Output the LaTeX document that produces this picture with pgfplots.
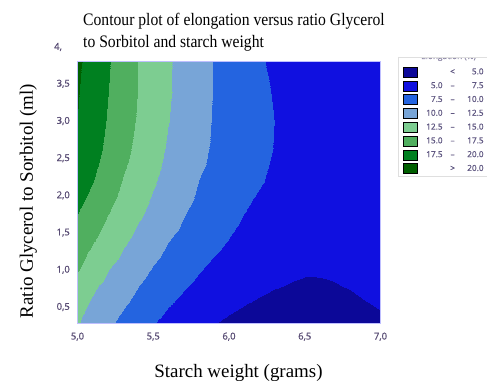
\documentclass[border=0pt]{standalone}
\usepackage{pgfplots}
\pgfplotsset{compat=1.18}
\usepackage{graphicx}
\usepackage{fontspec}
\setmainfont{Liberation Serif}
\newfontfamily\tickfont{Open Sans}[FakeBold=0.8]
\definecolor{tickc}{RGB}{88,76,116}
\definecolor{legc}{RGB}{96,88,130}
\definecolor{c1}{RGB}{12,8,152}
\definecolor{c2}{RGB}{16,16,224}
\definecolor{c3}{RGB}{36,100,224}
\definecolor{c4}{RGB}{120,165,215}
\definecolor{c5}{RGB}{125,205,145}
\definecolor{c6}{RGB}{80,175,95}
\definecolor{c7}{RGB}{0,128,32}
\definecolor{c8}{RGB}{0,95,0}
\pgfplotsset{swatch/.style={legend image code/.code={\fill[##1] (0bp,-5bp) rectangle (14bp,5bp);}}}
\newcommand{\lgent}[3]{\makebox[17bp][r]{#1}\makebox[20bp]{#2}\makebox[21bp][r]{#3}}
\begin{document}
\begin{tikzpicture}
\useasboundingbox (-77.5bp,-58bp) rectangle (409.5bp,323bp);
\begin{axis}[
  at={(0,0)}, anchor=south west,
  scale only axis, width=303bp, height=261.5bp,
  view={0}{90},
  xmin=5, xmax=7, ymin=0.285, ymax=3.8,
  enlargelimits=false,
  xtick={5,5.5,6,6.5,7}, ytick={0.5,1,1.5,2,2.5,3,3.5}, ztick=\empty,
  major tick length=0pt,
  axis line style={draw=blue!25},
  /pgf/number format/.cd, use comma, fixed, fixed zerofill, precision=1, assume math mode=true,
  /pgfplots/.cd,
  tick label style={font=\tickfont\fontsize{9.5}{10}\selectfont, text=tickc, inner sep=0pt},
  xticklabel style={anchor=center, yshift=-13.7bp},
  yticklabel style={anchor=east, xshift=-7.5bp},
  colormap={elong}{rgb255(0)=(12,8,152) rgb255(1)=(16,16,224) rgb255(2)=(36,100,224) rgb255(3)=(120,165,215) rgb255(4)=(125,205,145) rgb255(5)=(80,175,95) rgb255(6)=(0,128,32) rgb255(7)=(0,95,0) rgb255(8)=(0,95,0)},
  colormap access=piecewise constant,
  point meta min=2.5, point meta max=22.5,
  legend style={at={(325.5bp,256.3bp)}, anchor=north west, draw=none, fill=none, inner sep=0pt, row sep=3.4bp, column sep=8bp,
    nodes={inner sep=0pt, anchor=west, font=\tickfont\fontsize{8.3}{9}\selectfont, text=legc}},
  legend cell align=left,
]
\addplot3[surf, shader=interp, mesh/rows=12, mesh/cols=21, forget plot] table {
x y z
5.0 0.285 12.68
5.1 0.285 11.55
5.2 0.285 10.41
5.3 0.285 9.42
5.4 0.285 8.51
5.5 0.285 7.60
5.6 0.285 6.85
5.7 0.285 6.19
5.8 0.285 5.60
5.9 0.285 5.09
6.0 0.285 4.66
6.1 0.285 4.30
6.2 0.285 4.02
6.3 0.285 3.81
6.4 0.285 3.69
6.5 0.285 3.63
6.6 0.285 3.65
6.7 0.285 3.75
6.8 0.285 3.93
6.9 0.285 4.18
7.0 0.285 4.51
5.0 0.45 13.01
5.1 0.45 11.99
5.2 0.45 10.97
5.3 0.45 9.96
5.4 0.45 9.08
5.5 0.45 8.20
5.6 0.45 7.36
5.7 0.45 6.69
5.8 0.45 6.10
5.9 0.45 5.59
6.0 0.45 5.16
6.1 0.45 4.80
6.2 0.45 4.51
6.3 0.45 4.31
6.4 0.45 4.18
6.5 0.45 4.12
6.6 0.45 4.15
6.7 0.45 4.24
6.8 0.45 4.42
6.9 0.45 4.67
7.0 0.45 4.97
5.0 0.6 13.28
5.1 0.6 12.33
5.2 0.6 11.38
5.3 0.6 10.44
5.4 0.6 9.54
5.5 0.6 8.70
5.6 0.6 7.85
5.7 0.6 7.12
5.8 0.6 6.53
5.9 0.6 6.01
6.0 0.6 5.57
6.1 0.6 5.21
6.2 0.6 4.92
6.3 0.6 4.70
6.4 0.6 4.57
6.5 0.6 4.50
6.6 0.6 4.52
6.7 0.6 4.61
6.8 0.6 4.77
6.9 0.6 5.01
7.0 0.6 5.33
5.0 0.8 13.80
5.1 0.8 12.87
5.2 0.8 11.94
5.3 0.8 11.02
5.4 0.8 10.09
5.5 0.8 9.30
5.6 0.8 8.52
5.7 0.8 7.73
5.8 0.8 7.07
5.9 0.8 6.53
6.0 0.8 6.06
6.1 0.8 5.67
6.2 0.8 5.36
6.3 0.8 5.12
6.4 0.8 4.96
6.5 0.8 4.88
6.6 0.8 4.88
6.7 0.8 4.95
6.8 0.8 5.11
6.9 0.8 5.34
7.0 0.8 5.64
5.0 1.0 15.21
5.1 1.0 13.88
5.2 1.0 12.54
5.3 1.0 11.62
5.4 1.0 10.71
5.5 1.0 9.84
5.6 1.0 9.10
5.7 1.0 8.37
5.8 1.0 7.63
5.9 1.0 6.99
6.0 1.0 6.44
6.1 1.0 5.99
6.2 1.0 5.63
6.3 1.0 5.36
6.4 1.0 5.19
6.5 1.0 5.10
6.6 1.0 5.11
6.7 1.0 5.21
6.8 1.0 5.41
6.9 1.0 5.69
7.0 1.0 6.07
5.0 1.4 16.31
5.1 1.4 15.17
5.2 1.4 14.03
5.3 1.4 12.90
5.4 1.4 11.91
5.5 1.4 11.00
5.6 1.4 10.09
5.7 1.4 9.41
5.8 1.4 8.76
5.9 1.4 8.11
6.0 1.4 7.46
6.1 1.4 6.87
6.2 1.4 6.37
6.3 1.4 5.96
6.4 1.4 5.65
6.5 1.4 5.44
6.6 1.4 5.32
6.7 1.4 5.30
6.8 1.4 5.38
6.9 1.4 5.55
7.0 1.4 5.82
5.0 1.8 17.70
5.1 1.8 16.44
5.2 1.8 15.18
5.3 1.8 14.07
5.4 1.8 12.99
5.5 1.8 12.00
5.6 1.8 11.09
5.7 1.8 10.18
5.8 1.8 9.49
5.9 1.8 8.86
6.0 1.8 8.23
6.1 1.8 7.59
6.2 1.8 7.02
6.3 1.8 6.52
6.4 1.8 6.11
6.5 1.8 5.77
6.6 1.8 5.51
6.7 1.8 5.33
6.8 1.8 5.23
6.9 1.8 5.20
7.0 1.8 5.25
5.0 2.2 18.89
5.1 2.2 17.55
5.2 2.2 16.22
5.3 2.2 14.90
5.4 2.2 13.82
5.5 2.2 12.74
5.6 2.2 11.79
5.7 2.2 10.88
5.8 2.2 9.98
5.9 2.2 9.41
6.0 2.2 8.84
6.1 2.2 8.27
6.2 2.2 7.70
6.3 2.2 7.13
6.4 2.2 6.63
6.5 2.2 6.20
6.6 2.2 5.86
6.7 2.2 5.59
6.8 2.2 5.41
6.9 2.2 5.32
7.0 2.2 5.25
5.0 2.6 19.63
5.1 2.6 18.29
5.2 2.6 16.95
5.3 2.6 15.62
5.4 2.6 14.40
5.5 2.6 13.30
5.6 2.6 12.25
5.7 2.6 11.35
5.8 2.6 10.46
5.9 2.6 9.72
6.0 2.6 9.15
6.1 2.6 8.58
6.2 2.6 8.01
6.3 2.6 7.44
6.4 2.6 6.89
6.5 2.6 6.43
6.6 2.6 6.05
6.7 2.6 5.75
6.8 2.6 5.55
6.9 2.6 5.42
7.0 2.6 5.35
5.0 3.0 20.00
5.1 3.0 18.66
5.2 3.0 17.32
5.3 3.0 16.02
5.4 3.0 14.77
5.5 3.0 13.66
5.6 3.0 12.56
5.7 3.0 11.61
5.8 3.0 10.68
5.9 3.0 9.84
6.0 3.0 9.26
6.1 3.0 8.67
6.2 3.0 8.09
6.3 3.0 7.51
6.4 3.0 6.87
6.5 3.0 6.34
6.6 3.0 5.93
6.7 3.0 5.65
6.8 3.0 5.48
6.9 3.0 5.42
7.0 3.0 5.49
5.0 3.4 20.20
5.1 3.4 18.87
5.2 3.4 17.54
5.3 3.4 16.24
5.4 3.4 14.96
5.5 3.4 13.84
5.6 3.4 12.73
5.7 3.4 11.75
5.8 3.4 10.80
5.9 3.4 9.90
6.0 3.4 9.27
6.1 3.4 8.63
6.2 3.4 8.00
6.3 3.4 7.36
6.4 3.4 6.74
6.5 3.4 6.24
6.6 3.4 5.86
6.7 3.4 5.60
6.8 3.4 5.45
6.9 3.4 5.43
7.0 3.4 5.52
5.0 3.8 20.41
5.1 3.8 19.05
5.2 3.8 17.69
5.3 3.8 16.34
5.4 3.8 15.00
5.5 3.8 13.86
5.6 3.8 12.73
5.7 3.8 11.74
5.8 3.8 10.80
5.9 3.8 9.89
6.0 3.8 9.18
6.1 3.8 8.47
6.2 3.8 7.76
6.3 3.8 7.08
6.4 3.8 6.51
6.5 3.8 6.06
6.6 3.8 5.73
6.7 3.8 5.52
6.8 3.8 5.43
6.9 3.8 5.45
7.0 3.8 5.60
};
\addlegendimage{swatch, fill=c1}
\addlegendentry{\lgent{}{<}{5.0}}
\addlegendimage{swatch, fill=c2}
\addlegendentry{\lgent{5.0}{\textendash}{7.5}}
\addlegendimage{swatch, fill=c3}
\addlegendentry{\lgent{7.5}{\textendash}{10.0}}
\addlegendimage{swatch, fill=c4}
\addlegendentry{\lgent{10.0}{\textendash}{12.5}}
\addlegendimage{swatch, fill=c5}
\addlegendentry{\lgent{12.5}{\textendash}{15.0}}
\addlegendimage{swatch, fill=c6}
\addlegendentry{\lgent{15.0}{\textendash}{17.5}}
\addlegendimage{swatch, fill=c7}
\addlegendentry{\lgent{17.5}{\textendash}{20.0}}
\addlegendimage{swatch, fill=c8}
\addlegendentry{\lgent{}{>}{20.0}}
\end{axis}
% legend frame and partly hidden header
\draw[gray!25, line width=0.6bp] (320.5bp,266bp) -- (320.5bp,147bp) -- (420bp,147bp);
\draw[gray!25, line width=0.6bp] (320.5bp,266bp) -- (420bp,266bp);
\begin{scope}
\clip (320.5bp,264.6bp) rectangle (420bp,258bp);
\node[anchor=base west, inner sep=0pt, text=legc!70, font=\tickfont\fontsize{8.3}{9}\selectfont] at (343.5bp,264.0bp) {Elongation (\%)};
\end{scope}
% title
\node[anchor=base west, inner sep=0pt, font=\fontsize{15.7}{18}\selectfont] at (5.5bp,297bp) {\scalebox{1}[1.12]{Contour plot of elongation versus ratio Glycerol}};
\node[anchor=base west, inner sep=0pt, font=\fontsize{15.7}{18}\selectfont] at (5.5bp,275.3bp) {\scalebox{1}[1.12]{to Sorbitol and starch weight}};
% axis labels
\node[anchor=base, inner sep=0pt, font=\fontsize{19}{22}\selectfont] at (161bp,-54.3bp) {Starch weight (grams)};
\node[anchor=base, rotate=90, inner sep=0pt, font=\fontsize{19}{22}\selectfont] at (-44.5bp,122bp) {Ratio Glycerol to Sorbitol (ml)};
% partly shown tick label above the plot
\node[anchor=west, inner sep=0pt, text=tickc, font=\tickfont\fontsize{9.5}{10}\selectfont] at (-23.5bp,276bp) {4,};
\end{tikzpicture}
\end{document}
